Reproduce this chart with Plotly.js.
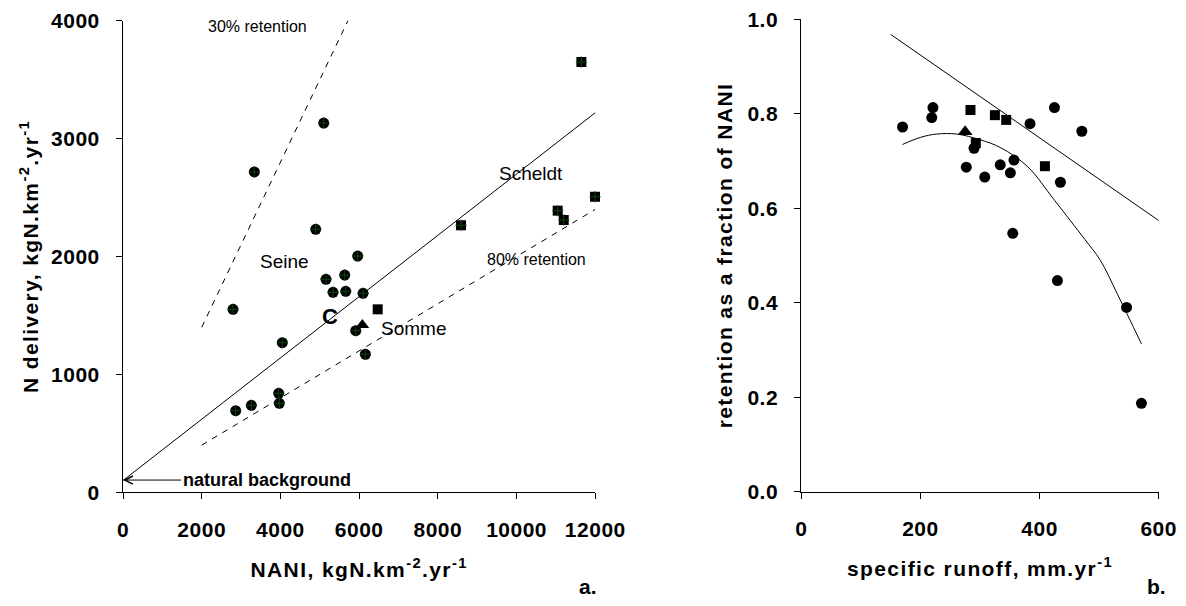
<!DOCTYPE html>
<html>
<head>
<meta charset="utf-8">
<script src="https://cdn.plot.ly/plotly-3.0.1.min.js"></script>
<style>
html,body{margin:0;padding:0;background:#fff;}
#chart{width:1186px;height:606px;}
#chart text.xtitle, #chart text.x2title, #chart text.ytitle, #chart text.y2title { letter-spacing: 1.4px; }
#chart .xtick text, #chart .ytick text, #chart .x2tick text, #chart .y2tick text { letter-spacing: 0.5px; }
</style>
</head>
<body>
<div id="chart"></div>
<script>
// ---------- Panel a: NANI vs N delivery ----------
const seineX = [5100, 3337, 4896, 5963, 5158, 5633, 5336, 5659, 6099, 2795, 5913, 4048, 6158, 3956, 3972, 3261, 2863];
const seineY = [3132, 2717, 2231, 2004, 1807, 1843, 1696, 1705, 1688, 1552, 1371, 1269, 1171, 840, 755, 738, 692];
const scheldtX = [11646, 8589, 11045, 11198, 11993];
const scheldtY = [3650, 2265, 2389, 2310, 2507];
const sommeX = [6471];
const sommeY = [1552];
const otherX = [6081];
const otherY = [1419];
const fitX = [0, 12000];
const fitY = [100, 3220];
const ret30X = [2000, 5800];
const ret30Y = [1400, 4060];
const ret80X = [2000, 12000];
const ret80Y = [400, 2400];
const xTicksA = [0, 2000, 4000, 6000, 8000, 10000, 12000];
const xTickTextA = ['0', '2000', '4000', '6000', '8000', '10000', '12000'];
const yTicksA = [0, 1000, 2000, 3000, 4000];

// ---------- Panel b: runoff vs retention ----------
const circX = [170, 221, 219, 290, 384, 425, 471, 357, 334, 277, 308, 351, 435, 355, 430, 546, 571];
const circY = [0.772, 0.813, 0.792, 0.727, 0.779, 0.813, 0.763, 0.702, 0.692, 0.687, 0.666, 0.675, 0.655, 0.547, 0.447, 0.390, 0.187];
const sqX = [284, 293, 325, 344, 409];
const sqY = [0.808, 0.738, 0.797, 0.787, 0.689];
const triX = [275];
const triY = [0.762];
const upperX = [150, 600];
const upperY = [0.968, 0.574];
const curveX = [170, 200, 227, 261, 300, 335, 380, 425, 476, 502, 530, 571];
const curveY = [0.735, 0.750, 0.757, 0.757, 0.745, 0.728, 0.688, 0.617, 0.534, 0.490, 0.420, 0.313];
const xTicksB = [0, 200, 400, 600];
const yTicksB = [0, 0.2, 0.4, 0.6, 0.8, 1.0];

const FONT = '"Liberation Sans", Arial, sans-serif';
const green = '#0b4a0b';

function line(x, y, xa, ya, dash) {
  return {x: x, y: y, xaxis: xa, yaxis: ya, mode: 'lines', type: 'scatter',
          line: {color: '#000', width: 1, dash: dash || 'solid'}, hoverinfo: 'skip', showlegend: false};
}
function pts(x, y, xa, ya, sym, size) {
  return {x: x, y: y, xaxis: xa, yaxis: ya, mode: 'markers', type: 'scatter', cliponaxis: false,
          marker: {symbol: sym, size: size, color: '#000', line: {width: 0}}, showlegend: false};
}
function cross(x, y, xa, ya) {
  return {x: x, y: y, xaxis: xa, yaxis: ya, mode: 'markers', type: 'scatter', cliponaxis: false,
          marker: {symbol: 'cross-thin', size: 8, color: green, line: {width: 1, color: green}},
          hoverinfo: 'skip', showlegend: false};
}

const data = [
  line(fitX, fitY, 'x', 'y'),
  line(ret30X, ret30Y, 'x', 'y', '6px,6px'),
  line(ret80X, ret80Y, 'x', 'y', '6px,6px'),
  pts(seineX, seineY, 'x', 'y', 'circle', 11),
  cross(seineX, seineY, 'x', 'y'),
  pts(scheldtX, scheldtY, 'x', 'y', 'square', 10),
  cross(scheldtX, scheldtY, 'x', 'y'),
  pts(sommeX, sommeY, 'x', 'y', 'square', 10),
  pts(otherX, otherY, 'x', 'y', 'triangle-up', 12),
  line(upperX, upperY, 'x2', 'y2'),
  Object.assign(line(curveX, curveY, 'x2', 'y2'), {line: {color: '#000', width: 1, shape: 'spline'}}),
  pts(circX, circY, 'x2', 'y2', 'circle', 11),
  pts(sqX, sqY, 'x2', 'y2', 'square', 10),
  pts(triX, triY, 'x2', 'y2', 'triangle-up', 13)
];

const tickFont = {family: FONT, size: 21, color: '#000', weight: 'bold'};
const titleFont = {family: FONT, size: 21, color: '#000', weight: 'bold'};
const axBase = {
  showline: true, linecolor: '#000', linewidth: 1, ticks: 'outside', ticklen: 6, tickwidth: 1,
  tickcolor: '#000', showgrid: false, zeroline: false, tickfont: tickFont, fixedrange: true
};

function ann(text, x, y, xref, yref, size, bold, extra) {
  return Object.assign({
    text: text, x: x, y: y, xref: xref, yref: yref, showarrow: false,
    font: {family: FONT, size: size, color: '#000', weight: bold ? 'bold' : 'normal'}
  }, extra || {});
}

const layout = {
  width: 1186, height: 606,
  margin: {l: 0, r: 0, t: 0, b: 0},
  paper_bgcolor: '#fff', plot_bgcolor: '#fff',
  showlegend: false,
  xaxis: Object.assign({}, axBase, {
    domain: [0.10371, 0.50194], range: [0, 12000], tickvals: xTicksA, ticktext: xTickTextA, anchor: 'y',
    ticklabelstandoff: 12,
    title: {text: 'NANI, kgN.km<sup>-2</sup>.yr<sup>-1</sup>', font: titleFont, standoff: 22}
  }),
  yaxis: Object.assign({}, axBase, {
    domain: [0.1876, 0.9658], range: [0, 4000], tickvals: yTicksA, anchor: 'x',
    ticklabelstandoff: 12,
    title: {text: 'N delivery, kgN.km<sup>-2</sup>.yr<sup>-1</sup>', font: titleFont, standoff: 8}
  }),
  xaxis2: Object.assign({}, axBase, {
    domain: [0.67563, 0.97698], range: [0, 600], tickvals: xTicksB, anchor: 'y2',
    ticklabelstandoff: 12,
    title: {text: 'specific runoff, mm.yr<sup>-1</sup>', font: titleFont, standoff: 22}
  }),
  yaxis2: Object.assign({}, axBase, {
    domain: [0.1886, 0.9682], range: [0, 1.0], tickvals: yTicksB, tickformat: '.1f', anchor: 'x2',
    ticklabelstandoff: 12,
    title: {text: 'retention as a fraction of NANI', font: titleFont, standoff: 10}
  }),
  annotations: [
    ann('30% retention', 3413, 3949, 'x', 'y', 16, false),
    ann('Scheldt', 10375, 2700, 'x', 'y', 19, false),
    ann('Seine', 4091, 1959, 'x', 'y', 19, false),
    ann('C', 5260, 1495, 'x', 'y', 22, true),
    ann('Somme', 7377, 1391, 'x', 'y', 19, false),
    ann('80% retention', 10512, 1976, 'x', 'y', 16, false),
    {text: 'natural background', x: 0, y: 104, xref: 'x', yref: 'y', showarrow: true,
     ax: 58, ay: 0, xanchor: 'left', arrowhead: 5, arrowsize: 1.6, arrowwidth: 1, arrowcolor: '#000',
     font: {family: FONT, size: 18, color: '#000', weight: 'bold'}},
    ann('a.', 0.496, 0.01, 'paper', 'paper', 21, true, {yanchor: 'bottom'}),
    ann('b.', 0.985, 0.01, 'paper', 'paper', 21, true, {yanchor: 'bottom'})
  ]
};

Plotly.newPlot('chart', data, layout, {displayModeBar: false, staticPlot: true});
</script>
</body>
</html>
